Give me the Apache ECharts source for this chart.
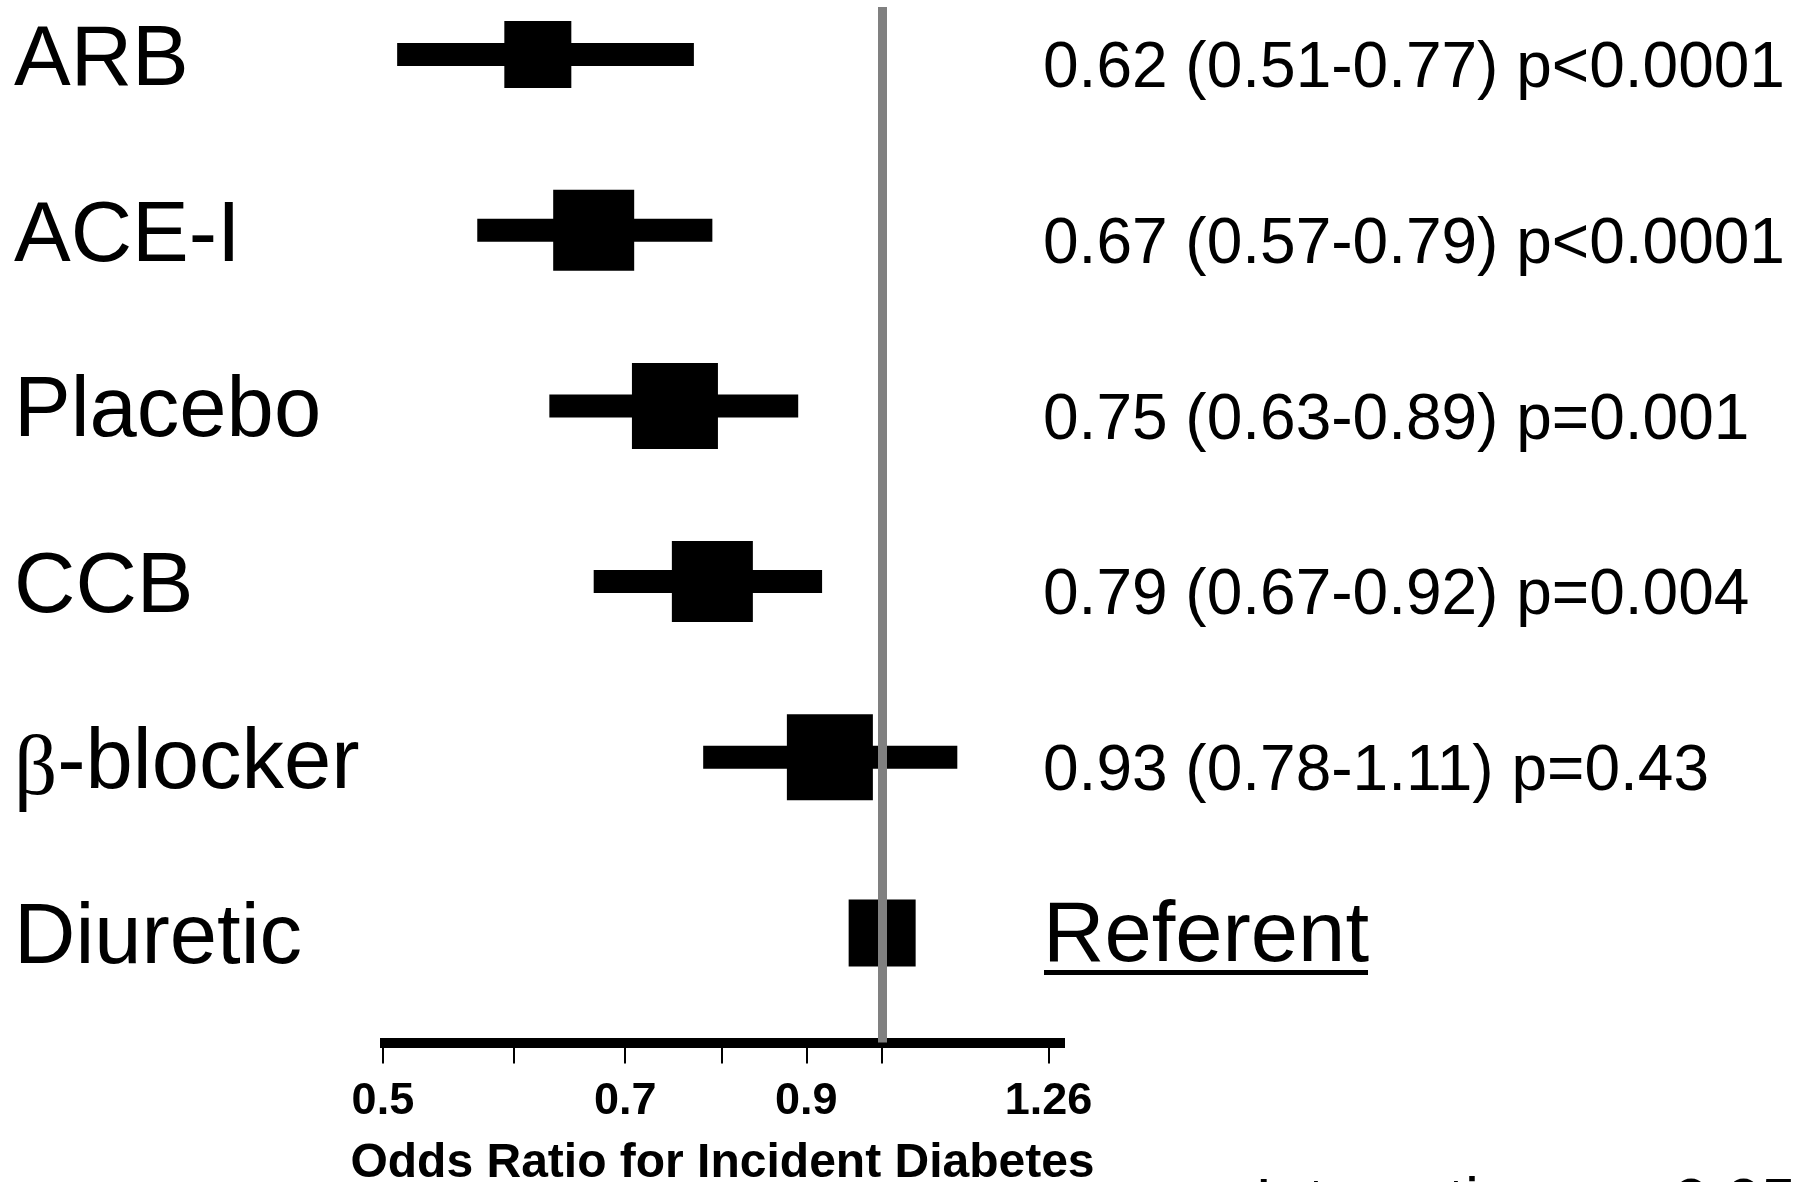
<!DOCTYPE html>
<html>
<head>
<meta charset="utf-8">
<script src="https://cdn.jsdelivr.net/npm/echarts@6/dist/echarts.min.js"></script>
<style>
  html, body { margin: 0; padding: 0; background: #fff; }
  #chart { width: 1794px; height: 1182px; }
</style>
</head>
<body>
<div id="chart"></div>
<script>
// ---------------- DATA ----------------
const categories = ['ARB', 'ACE-I', 'Placebo', 'CCB', 'β-blocker', 'Diuretic'];
const oddsRatio  = [0.62, 0.67, 0.75, 0.79, 0.93, 1.00];
const ciLow      = [0.51, 0.57, 0.63, 0.67, 0.78, null];
const ciHigh     = [0.77, 0.79, 0.89, 0.92, 1.11, null];
const pValues    = ['p<0.0001', 'p<0.0001', 'p=0.001', 'p=0.004', 'p=0.43', null];
const referentLabel = 'Referent';
const referenceValue = 1.0;
const tickValues = [0.5, 0.6, 0.7, 0.8, 0.9, 1.0, 1.26];
const tickLabelValues = [0.5, 0.7, 0.9, 1.26];
const tickLabels = ['0.5', '0.7', '0.9', '1.26'];
const axisTitle = 'Odds Ratio for Incident Diabetes';
const footnote = 'Interaction p = 0.05';

// ---------------- STYLE ----------------
const FONT = '"Liberation Sans", Arial, sans-serif';
const boxSize = [67, 81, 86, 81, 86, 67];
const whiskerHeight = 23;
const rightTextX = 1043;

function ciText(i) {
  if (ciLow[i] == null) return null;
  return oddsRatio[i].toFixed(2) + ' (' + ciLow[i].toFixed(2) + '-' + ciHigh[i].toFixed(2) + ') ' + pValues[i];
}

const measureCtx = document.createElement('canvas').getContext('2d');
function textWidth(t, font) { measureCtx.font = font; return measureCtx.measureText(t).width; }

const chart = echarts.init(document.getElementById('chart'), null, { renderer: 'canvas' });

const seriesData = categories.map((c, i) => [Math.log(oddsRatio[i]), i]);

const option = {
  backgroundColor: '#fff',
  animation: false,
  grid: { left: 380, top: 7, width: 685, height: 1035.5, containLabel: false, outerBoundsMode: 'none' },
  xAxis: [{
    type: 'value',
    position: 'bottom',
    min: Math.log(0.498),
    max: Math.log(1.289),
    z: 2,
    axisLine: { show: true, onZero: false, lineStyle: { color: '#000', width: 10, cap: 'butt' } },
    axisTick: { show: true, customValues: tickValues.map(Math.log), length: 21, lineStyle: { color: '#000', width: 2, cap: 'butt' } },
    axisLabel: {
      show: true,
      customValues: tickLabelValues.map(Math.log),
      formatter: function (v) {
        let best = 0, bd = Infinity;
        tickLabelValues.forEach((t, k) => { const d = Math.abs(Math.log(t) - v); if (d < bd) { bd = d; best = k; } });
        return tickLabels[best];
      },
      margin: 37,
      color: '#000',
      fontSize: 45,
      fontWeight: 'bold',
      fontFamily: FONT
    },
    splitLine: { show: false },
    name: axisTitle,
    nameLocation: 'middle',
    nameGap: 97,
    nameTextStyle: { color: '#000', fontSize: 48, fontWeight: 'bold', fontFamily: FONT }
  }, {
    type: 'value',
    position: 'bottom',
    offset: 0,
    min: Math.log(0.498),
    max: Math.log(1.289),
    z: 2,
    axisLine: { show: false, onZero: false },
    axisTick: { show: true, inside: true, customValues: [Math.log(referenceValue)], length: 18, lineStyle: { color: '#000', width: 2, cap: 'butt' } },
    axisLabel: { show: false },
    splitLine: { show: false }
  }],
  yAxis: {
    type: 'value',
    inverse: true,
    min: -0.2703,
    max: 5.6232,
    axisLine: { show: false, onZero: false },
    axisTick: { show: false },
    splitLine: { show: false },
    axisLabel: {
      show: true,
      customValues: categories.map((c, i) => i),
      formatter: function (v) {
        const name = categories[Math.round(v)] || '';
        if (name.charAt(0) === 'β') return '{beta|β}' + name.slice(1);
        return name;
      },
      align: 'left',
      margin: 366,
      padding: [14, 0, 0, 0],
      color: '#000',
      fontSize: 85,
      fontFamily: FONT,
      rich: { beta: { fontFamily: '"Liberation Serif", serif', fontSize: 85, color: '#000', padding: [14, 0, 0, 0] } }
    }
  },
  series: [{
    type: 'line',
    data: [],
    z: 1,
    silent: true,
    markLine: {
      silent: true,
      symbol: 'none',
      label: { show: false },
      lineStyle: { color: '#808080', width: 9, type: 'solid', cap: 'butt' },
      data: [{ xAxis: Math.log(referenceValue) }]
    }
  }, {
    type: 'custom',
    z: 3,
    silent: true,
    data: seriesData,
    renderItem: function (params, api) {
      const i = params.dataIndex;
      const c = api.coord([api.value(0), api.value(1)]);
      const children = [];
      if (ciLow[i] != null) {
        const a = api.coord([Math.log(ciLow[i]), i]);
        const b = api.coord([Math.log(ciHigh[i]), i]);
        children.push({ type: 'rect', shape: { x: a[0], y: c[1] - whiskerHeight / 2, width: b[0] - a[0], height: whiskerHeight }, style: { fill: '#000' } });
      }
      const s = boxSize[i];
      children.push({ type: 'rect', shape: { x: c[0] - s / 2, y: c[1] - s / 2, width: s, height: s }, style: { fill: '#000' } });
      const t = ciText(i);
      if (t) {
        children.push({ type: 'text', x: rightTextX, y: c[1] + 15, style: { text: t, fill: '#000', fontSize: 64, fontFamily: FONT, align: 'left', verticalAlign: 'middle' } });
      } else {
        const font = '85px "Liberation Sans"';
        const w = textWidth(referentLabel, font);
        children.push({ type: 'text', x: rightTextX, y: c[1] + 5, style: { text: referentLabel, fill: '#000', fontSize: 85, fontFamily: FONT, align: 'left', verticalAlign: 'middle' } });
        children.push({ type: 'rect', shape: { x: rightTextX + 1, y: c[1] + 37, width: w - 2, height: 5 }, style: { fill: '#000' } });
      }
      return { type: 'group', children: children };
    }
  }],
  graphic: [{
    type: 'text',
    x: 1255,
    y: 1205,
    silent: true,
    style: { text: footnote, fill: '#000', fontSize: 63, fontFamily: FONT, align: 'left', verticalAlign: 'middle' }
  }]
};

chart.setOption(option);
</script>
</body>
</html>
